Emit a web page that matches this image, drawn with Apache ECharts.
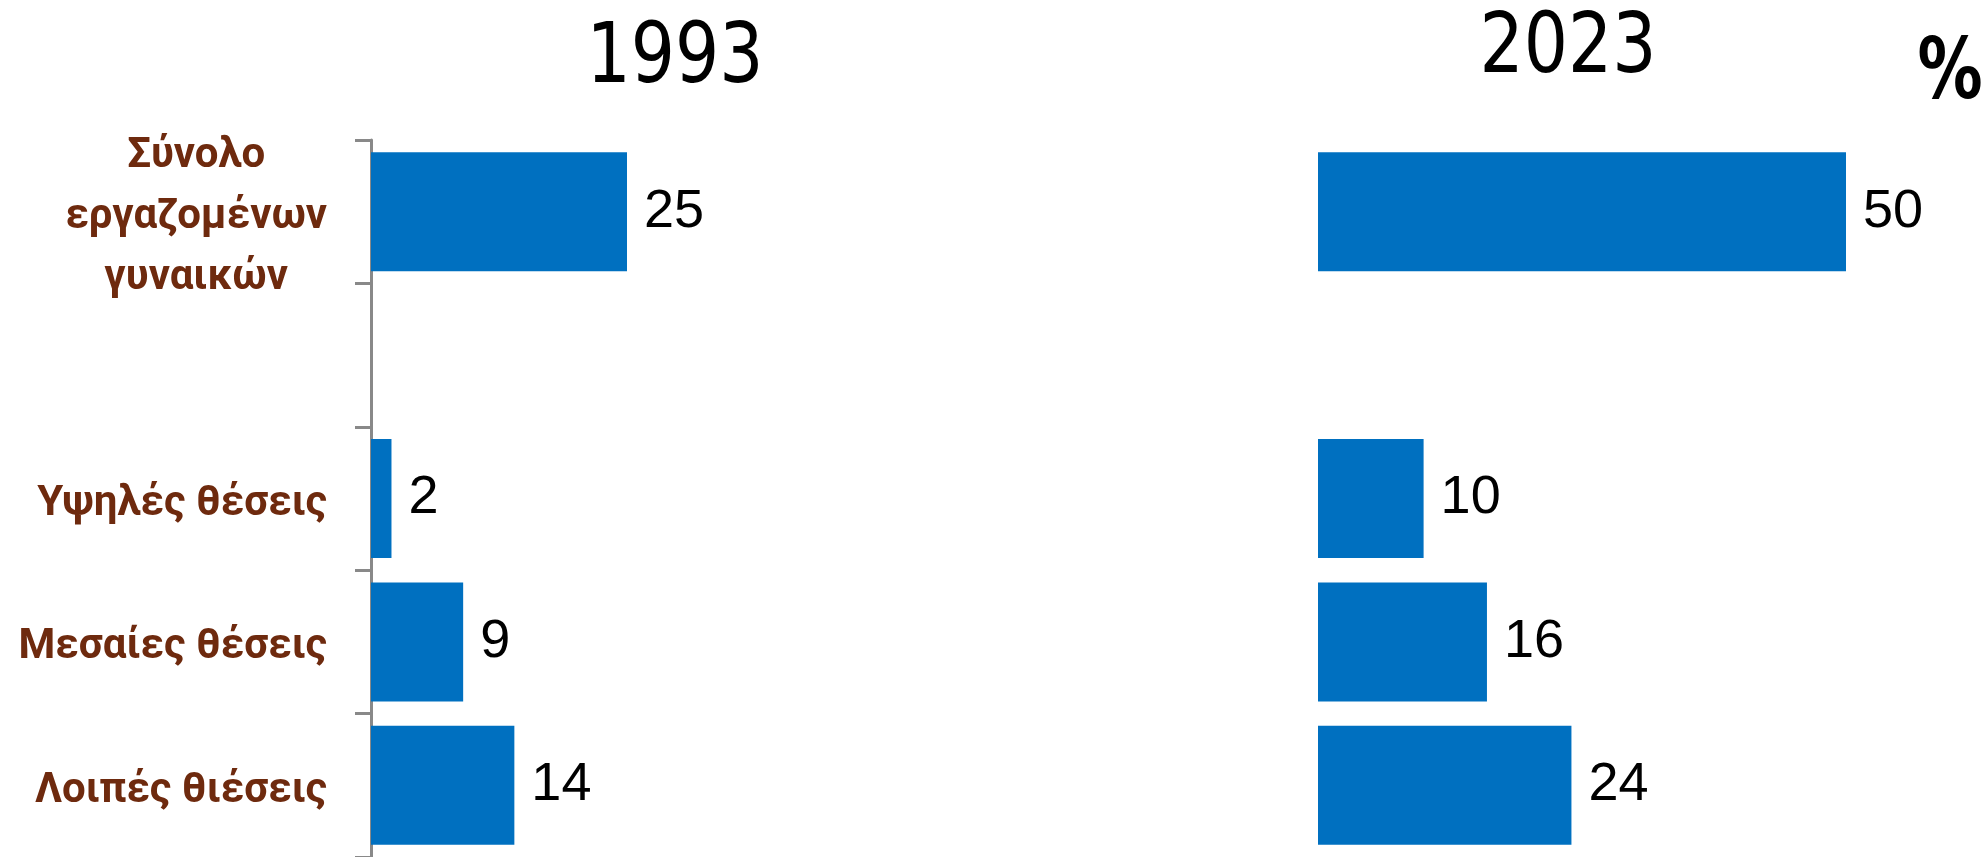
<!DOCTYPE html>
<html>
<head>
<meta charset="utf-8">
<script src="https://cdn.jsdelivr.net/npm/echarts@6/dist/echarts.min.js"></script>
<style>
  html, body { margin: 0; padding: 0; background: #fff; }
  #main { width: 1985px; height: 857px; }
</style>
</head>
<body>
<div id="main"></div>
<script>
var categories = ['Σύνολο\nεργαζομένων\nγυναικών', '', 'Υψηλές θέσεις', 'Μεσαίες θέσεις', 'Λοιπές θιέσεις'];
var values1993 = [25, null, 2, 9, 14];
var values2023 = [50, null, 10, 16, 24];
var years = ['1993', '2023'];

var brown = '#6E2A0E';
var blue = '#0070C0';
var labelFont = 'Roboto, "Noto Sans", sans-serif';
var numFont = '"Liberation Sans", Arial, sans-serif';
var titleFont = '"Liberation Sans Narrow", "DejaVu Sans Condensed", sans-serif';

var chart = echarts.init(document.getElementById('main'));

var valueLabel = {
    show: true,
    position: 'right',
    distance: 17,
    padding: [12, 0, 0, 0],
    color: '#000',
    fontFamily: numFont,
    fontSize: 54
};

var option = {
    animation: false,
    backgroundColor: '#fff',
    graphic: [
        {
            type: 'text', x: 675, y: 60, scaleX: 0.92,
            style: { text: years[0], fontFamily: titleFont, fontSize: 84, fill: '#000', textAlign: 'center', textVerticalAlign: 'middle' }
        },
        {
            type: 'text', x: 1568, y: 50, scaleX: 0.92,
            style: { text: years[1], fontFamily: titleFont, fontSize: 84, fill: '#000', textAlign: 'center', textVerticalAlign: 'middle' }
        },
        {
            type: 'text', x: 1950, y: 76, scaleX: 0.86,
            style: { text: '%', fontFamily: titleFont, fontWeight: 'bold', fontSize: 84, fill: '#000', textAlign: 'center', textVerticalAlign: 'middle' }
        }
    ],
    grid: [
        { left: 371, top: 140, width: 512, height: 720 },
        { left: 1318, top: 140, width: 528, height: 720 }
    ],
    xAxis: [
        { gridIndex: 0, type: 'value', min: 0, max: 50, show: false },
        { gridIndex: 1, type: 'value', min: 0, max: 50, show: false }
    ],
    yAxis: [
        {
            gridIndex: 0,
            type: 'category',
            inverse: true,
            data: categories,
            axisLine: { show: true, lineStyle: { color: '#898989', width: 3 } },
            axisTick: { show: true, length: 16, lineStyle: { color: '#898989', width: 3 } },
            axisLabel: {
                margin: 44,
                padding: [12, 0, 0, 0],
                color: brown,
                fontFamily: labelFont,
                fontWeight: 'bold',
                fontSize: 42,
                align: 'right',
                formatter: function (v, i) {
                    if (v.indexOf('\n') < 0) return v;
                    return v.split('\n').map(function (s) { return '{c|' + s + '}'; }).join('\n');
                },
                rich: {
                    c: { align: 'center', lineHeight: 61, color: brown, fontFamily: labelFont, fontWeight: 'bold', fontSize: 42 }
                }
            }
        },
        { gridIndex: 1, type: 'category', inverse: true, data: categories, show: false }
    ],
    series: [
        {
            type: 'bar', xAxisIndex: 0, yAxisIndex: 0,
            data: values1993,
            barCategoryGap: '17%',
            itemStyle: { color: blue },
            label: valueLabel
        },
        {
            type: 'bar', xAxisIndex: 1, yAxisIndex: 1,
            data: values2023,
            barCategoryGap: '17%',
            itemStyle: { color: blue },
            label: valueLabel
        }
    ]
};

chart.setOption(option);
window.onresize = chart.resize;
</script>
</body>
</html>
